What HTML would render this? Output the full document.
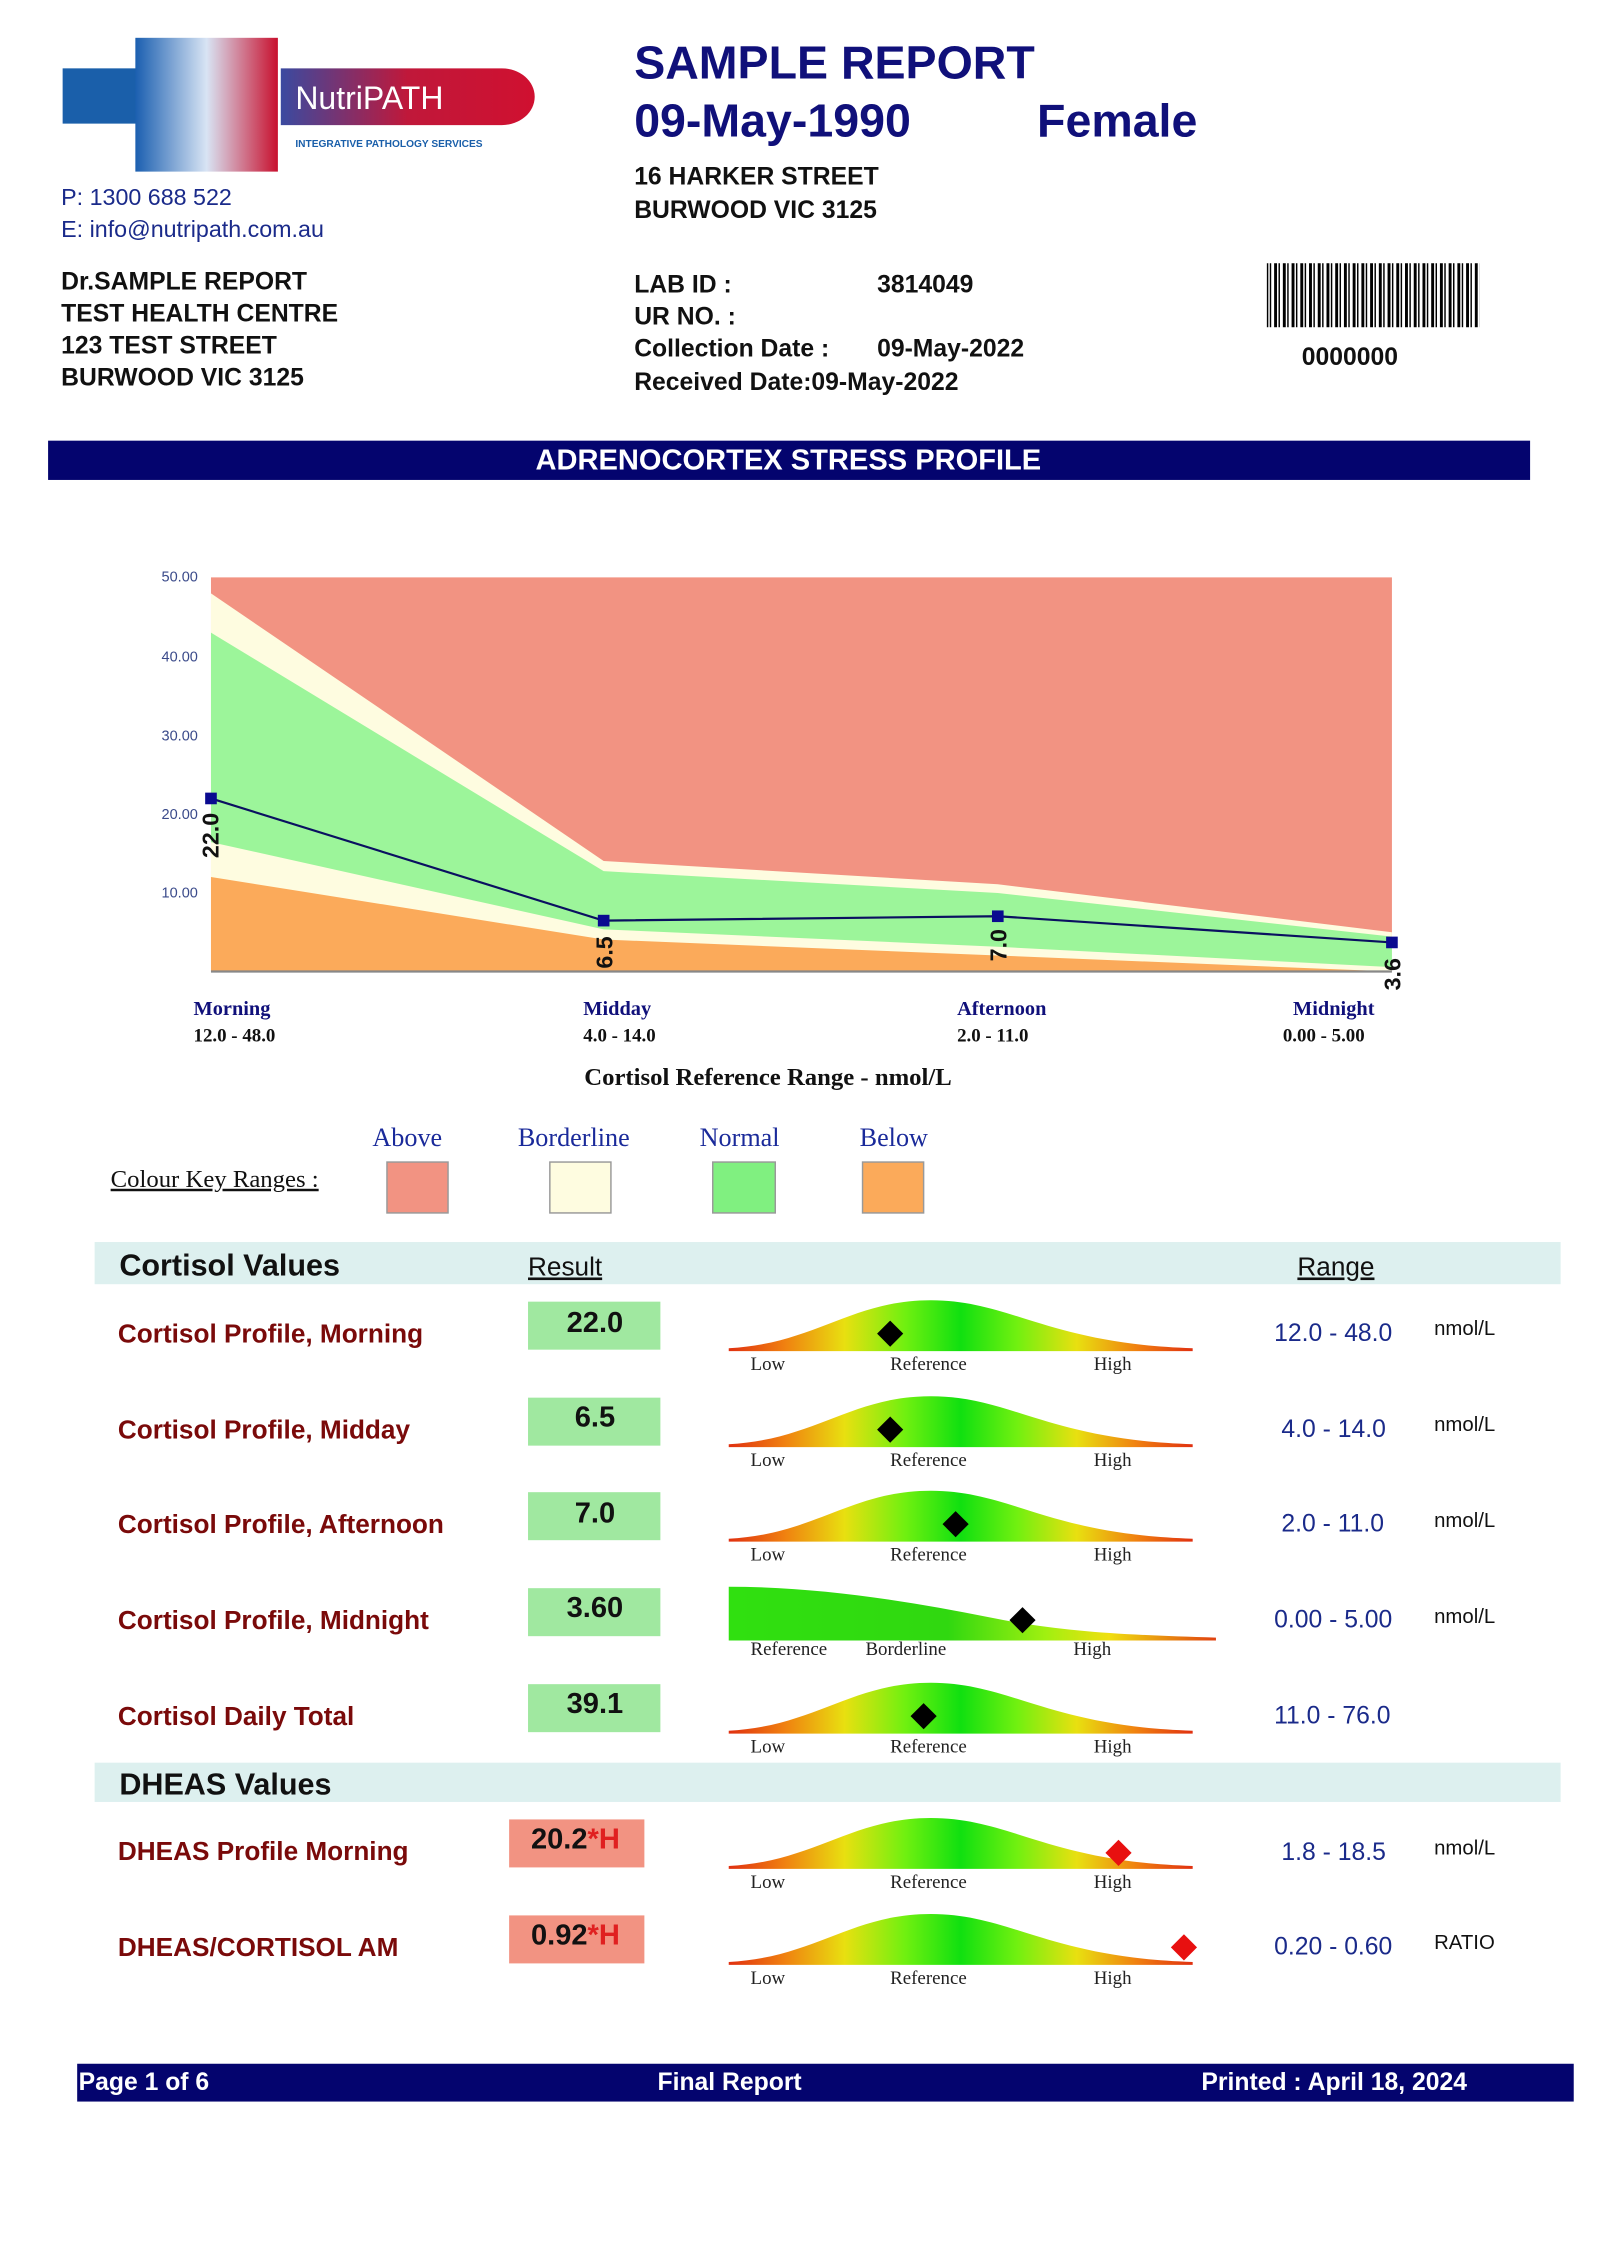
<!DOCTYPE html>
<html><head><meta charset="utf-8"><style>
html,body{margin:0;padding:0;background:#fff}
svg{display:block}
.s{font-family:"Liberation Sans",sans-serif}
.r{font-family:"Liberation Serif",serif}
</style></head><body>
<svg width="1600" height="2263" viewBox="0 0 1100 1556" xmlns="http://www.w3.org/2000/svg">
<defs>
<linearGradient id="lg" x1="0" x2="1"><stop offset="0" stop-color="#1b5fb0"/><stop offset="0.5" stop-color="#d8e4f4"/><stop offset="1" stop-color="#c8102e"/></linearGradient>
<linearGradient id="rg" x1="0" x2="1"><stop offset="0" stop-color="#3a4aa0"/><stop offset="0.5" stop-color="#c0183a"/><stop offset="1" stop-color="#d01030"/></linearGradient>
<linearGradient id="bell" x1="0" x2="1">
<stop offset="0" stop-color="#e03010"/><stop offset="0.12" stop-color="#f08010"/><stop offset="0.25" stop-color="#e8e010"/><stop offset="0.38" stop-color="#70f010"/><stop offset="0.5" stop-color="#10e010"/><stop offset="0.62" stop-color="#70f010"/><stop offset="0.75" stop-color="#e8e010"/><stop offset="0.88" stop-color="#f08010"/><stop offset="1" stop-color="#e03010"/></linearGradient>
<linearGradient id="half" x1="0" x2="1">
<stop offset="0" stop-color="#30e010"/><stop offset="0.45" stop-color="#30d810"/><stop offset="0.65" stop-color="#a0f010"/><stop offset="0.78" stop-color="#f0e010"/><stop offset="1" stop-color="#e04010"/></linearGradient>
<g id="bc"><path d="M501,11 C560,8 585,-22 640,-22 C695,-22 720,8 820,11 L820,13 L501,13 Z" fill="url(#bell)"/>
<text x="516" y="26" class="r" font-size="13" fill="#222">Low</text><text x="612" y="26" class="r" font-size="13" fill="#222">Reference</text><text x="752" y="26" class="r" font-size="13" fill="#222">High</text></g>
</defs>
<!-- logo -->
<rect x="43" y="47" width="52" height="38" fill="#1a5faa"/>
<rect x="93" y="26" width="98" height="92" fill="url(#lg)"/>
<path d="M193,47 H345 A22,19 0 0 1 345,86 H193 Z" fill="url(#rg)"/>
<text x="203" y="75" class="s" font-size="22" fill="#fff">NutriPATH</text>
<text x="203" y="101" class="s" font-size="7" font-weight="bold" fill="#1a5faa">INTEGRATIVE PATHOLOGY SERVICES</text>
<text x="42" y="141" class="s" font-size="16" fill="#1a2a8a">P: 1300 688 522</text>
<text x="42" y="163" class="s" font-size="16" fill="#1a2a8a">E: info@nutripath.com.au</text>
<g class="s" font-weight="bold" font-size="17" fill="#111">
<text x="42" y="199">Dr.SAMPLE REPORT</text><text x="42" y="221">TEST HEALTH CENTRE</text><text x="42" y="243">123 TEST STREET</text><text x="42" y="265">BURWOOD VIC 3125</text>
<text x="436" y="127">16  HARKER STREET</text><text x="436" y="150">BURWOOD VIC 3125</text>
<text x="436" y="201">LAB ID :</text><text x="603" y="201">3814049</text><text x="436" y="223">UR NO. :</text>
<text x="436" y="245">Collection Date :</text><text x="603" y="245">09-May-2022</text>
<text x="436" y="268">Received Date:09-May-2022</text>
<text x="895" y="251">0000000</text></g>
<g class="s" font-weight="bold" font-size="32" fill="#10107a"><text x="436" y="54">SAMPLE REPORT</text><text x="436" y="94">09-May-1990</text><text x="713" y="94">Female</text></g>
<g fill="#000"><rect x="871" y="181" width="146" height="44" fill="url(#bars)"/></g>
<defs><pattern id="bars" width="6" height="44" patternUnits="userSpaceOnUse"><rect width="2" height="44" fill="#000"/><rect x="3" width="1" height="44" fill="#000"/></pattern></defs>
<rect x="33" y="303" width="1019" height="27" fill="#04046e"/>
<text x="542" y="323" text-anchor="middle" class="s" font-weight="bold" font-size="20" fill="#fff">ADRENOCORTEX STRESS PROFILE</text>
<!-- chart -->
<rect x="145" y="397" width="812" height="271" fill="#f29382"/>
<polygon points="145,408 415,592 686,608 957,641 957,668 145,668" fill="#fefce0"/>
<polygon points="145,435 415,599 686,614 957,644 957,665 686,651 415,639 145,579" fill="#9cf59a"/>
<polygon points="145,603 415,646 686,657 957,668 145,668" fill="#fbaa5a"/>
<line x1="145" y1="668" x2="957" y2="668" stroke="#888" stroke-width="1.5"/>
<g class="s" font-size="10" fill="#3a4a8a" text-anchor="end"><text x="136" y="400">50.00</text><text x="136" y="455">40.00</text><text x="136" y="509">30.00</text><text x="136" y="563">20.00</text><text x="136" y="617">10.00</text></g>
<polyline points="145,549 415,633 686,630 957,648" fill="none" stroke="#0a1060" stroke-width="1.5"/>
<g fill="#0a0a90"><rect x="141" y="545" width="8" height="8"/><rect x="411" y="629" width="8" height="8"/><rect x="682" y="626" width="8" height="8"/><rect x="953" y="644" width="8" height="8"/></g>
<g class="s" font-weight="bold" font-size="16" fill="#111">
<text transform="translate(150,590) rotate(-90)">22.0</text><text transform="translate(421,666) rotate(-90)">6.5</text><text transform="translate(692,661) rotate(-90)">7.0</text><text transform="translate(963,681) rotate(-90)">3.6</text></g>
<g class="r" font-weight="bold" font-size="14"><g fill="#10107a"><text x="133" y="698">Morning</text><text x="401" y="698">Midday</text><text x="658" y="698">Afternoon</text><text x="889" y="698">Midnight</text></g>
<g fill="#111" font-size="13"><text x="133" y="716">12.0 - 48.0</text><text x="401" y="716">4.0 - 14.0</text><text x="658" y="716">2.0 - 11.0</text><text x="882" y="716">0.00 - 5.00</text></g>
<text x="528" y="746" text-anchor="middle" font-size="17" fill="#111">Cortisol Reference Range - nmol/L</text></g>
<g class="r" font-size="18" fill="#1a2a9a"><text x="256" y="788">Above</text><text x="356" y="788">Borderline</text><text x="481" y="788">Normal</text><text x="591" y="788">Below</text></g>
<text x="76" y="816" class="r" font-size="17" fill="#111" text-decoration="underline">Colour Key Ranges :</text>
<rect x="266" y="799" width="42" height="35" fill="#f29382" stroke="#999"/><rect x="378" y="799" width="42" height="35" fill="#fefce0" stroke="#999"/><rect x="490" y="799" width="43" height="35" fill="#80f080" stroke="#999"/><rect x="593" y="799" width="42" height="35" fill="#fbaa5a" stroke="#999"/>
<!-- tables -->
<rect x="65" y="854" width="1008" height="29" fill="#ddf0ef"/>
<text x="82" y="877" class="s" font-weight="bold" font-size="21" fill="#111">Cortisol Values</text>
<g class="s" font-size="18" fill="#111" text-decoration="underline"><text x="363" y="877">Result</text><text x="892" y="877">Range</text><text x="363" y="1231">Result</text><text x="892" y="1231">Range</text></g>
<rect x="65" y="1212" width="1008" height="27" fill="#ddf0ef"/>
<text x="82" y="1234" class="s" font-weight="bold" font-size="21" fill="#111">DHEAS Values</text>
<g class="s" font-weight="bold" font-size="18" fill="#7a0a0a">
<text x="81" y="923">Cortisol Profile, Morning</text><text x="81" y="989">Cortisol Profile, Midday</text><text x="81" y="1054">Cortisol Profile, Afternoon</text><text x="81" y="1120">Cortisol Profile, Midnight</text><text x="81" y="1186">Cortisol Daily Total</text><text x="81" y="1279">DHEAS Profile Morning</text><text x="81" y="1345">DHEAS/CORTISOL AM</text></g>
<g fill="#a0e8a0"><rect x="363" y="895" width="91" height="33"/><rect x="363" y="961" width="91" height="33"/><rect x="363" y="1026" width="91" height="33"/><rect x="363" y="1092" width="91" height="33"/><rect x="363" y="1158" width="91" height="33"/></g>
<rect x="350" y="1251" width="93" height="33" fill="#f29382"/><rect x="350" y="1317" width="93" height="33" fill="#f29382"/>
<g class="s" font-weight="bold" font-size="20" fill="#111" text-anchor="middle"><text x="409" y="916">22.0</text><text x="409" y="981">6.5</text><text x="409" y="1047">7.0</text><text x="409" y="1112">3.60</text><text x="409" y="1178">39.1</text></g>
<g class="s" font-weight="bold" font-size="20" fill="#111"><text x="365" y="1271">20.2<tspan fill="#e02020">*H</tspan></text><text x="365" y="1337">0.92<tspan fill="#e02020">*H</tspan></text></g>
<use href="#bc" y="916"/><use href="#bc" y="982"/><use href="#bc" y="1047"/><use href="#bc" y="1179"/><use href="#bc" y="1272"/><use href="#bc" y="1338"/>
<path d="M501,1091 C560,1091 620,1100 680,1112 C730,1122 770,1124 836,1126 L836,1128 L501,1128 Z" fill="url(#half)"/>
<g class="r" font-size="13" fill="#222"><text x="516" y="1138">Reference</text><text x="595" y="1138">Borderline</text><text x="738" y="1138">High</text></g>
<g fill="#000"><path d="M612,908 l9,9 -9,9 -9,-9z"/><path d="M612,974 l9,9 -9,9 -9,-9z"/><path d="M657,1039 l9,9 -9,9 -9,-9z"/><path d="M703,1105 l9,9 -9,9 -9,-9z"/><path d="M635,1171 l9,9 -9,9 -9,-9z"/></g>
<g fill="#e81010"><path d="M769,1265 l9,9 -9,9 -9,-9z"/><path d="M814,1330 l9,9 -9,9 -9,-9z"/></g>
<g class="s" font-size="17" fill="#1a2a8a"><text x="876" y="922">12.0 - 48.0</text><text x="881" y="988">4.0 - 14.0</text><text x="881" y="1053">2.0 - 11.0</text><text x="876" y="1119">0.00 - 5.00</text><text x="876" y="1185">11.0 - 76.0</text><text x="881" y="1279">1.8 - 18.5</text><text x="876" y="1344">0.20 - 0.60</text></g>
<g class="s" font-size="14" fill="#111"><text x="986" y="918">nmol/L</text><text x="986" y="984">nmol/L</text><text x="986" y="1050">nmol/L</text><text x="986" y="1116">nmol/L</text><text x="986" y="1275">nmol/L</text><text x="986" y="1340">RATIO</text></g>
<rect x="53" y="1419" width="1029" height="26" fill="#04046e"/>
<g class="s" font-weight="bold" font-size="17" fill="#fff"><text x="54" y="1437">Page 1 of 6</text><text x="452" y="1437">Final Report</text><text x="826" y="1437">Printed : April 18, 2024</text></g>
</svg>
</body></html>
